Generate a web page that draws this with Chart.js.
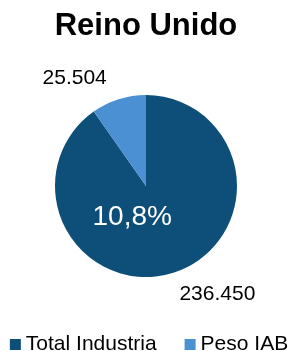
<!DOCTYPE html>
<html>
<head>
<meta charset="utf-8">
<script src="https://cdn.jsdelivr.net/npm/chart.js@4"></script>
<style>
  body { margin: 0; background: #fff; }
  #wrap { width: 292px; height: 351px; }
</style>
</head>
<body>
<div id="wrap"><canvas id="pie"></canvas></div>
<script>
// data
const categories = ['Total Industria', 'Peso IAB'];
const values = [236450, 25504];
const sliceColors = ['#0e4f79', '#4a90d3'];
const chartTitle = 'Reino Unido';

const FONT = '"Liberation Sans", Arial, sans-serif';

// 236450 -> "236.450"
function fmtThousands(n) {
  return String(n).replace(/\B(?=(\d{3})+(?!\d))/g, '.');
}

// IAB share of total industry, "10,8%"
const sharePct = (values[1] / values[0] * 100).toFixed(1).replace('.', ',') + '%';

// value labels outside the slices + share label inside
const sliceLabels = {
  id: 'sliceLabels',
  afterDatasetsDraw(chart) {
    const ctx = chart.ctx;
    const arcs = chart.getDatasetMeta(0).data;
    ctx.save();
    ctx.textAlign = 'center';
    ctx.textBaseline = 'middle';

    arcs.forEach((arc, i) => {
      const mid = (arc.startAngle + arc.endAngle) / 2 - 16 * Math.PI / 180;
      const r = arc.outerRadius * 1.42;
      ctx.fillStyle = '#000';
      ctx.font = '21px ' + FONT;
      ctx.fillText(fmtThousands(values[i]), arc.x + Math.cos(mid) * r, arc.y + Math.sin(mid) * r);
    });

    const big = arcs[0];
    const a = (big.startAngle + big.endAngle) / 2 + 41 * Math.PI / 180;
    const rr = big.outerRadius * 0.38;
    ctx.fillStyle = '#fff';
    ctx.font = '28px ' + FONT;
    ctx.fillText(sharePct, big.x + Math.cos(a) * rr, big.y + Math.sin(a) * rr);
    ctx.restore();
  }
};

// legend row at the bottom: small square, tight gap, wide spacing between items
const bottomLegend = {
  id: 'bottomLegend',
  afterDraw(chart) {
    const ctx = chart.ctx;
    const box = 11, gap = 5, spacing = 28;
    const baseY = chart.height - 1;
    ctx.save();
    ctx.font = '21px ' + FONT;
    ctx.textBaseline = 'alphabetic';
    const widths = categories.map(t => ctx.measureText(t).width);
    const total = widths.reduce((s, w) => s + box + gap + w, 0) + spacing * (categories.length - 1);
    let x = chart.width / 2 + 3 - total / 2;
    categories.forEach((t, i) => {
      ctx.fillStyle = sliceColors[i];
      ctx.fillRect(x, baseY - box, box, box);
      ctx.fillStyle = '#000';
      ctx.fillText(t, x + box + gap, baseY);
      x += box + gap + widths[i] + spacing;
    });
    ctx.restore();
  }
};

new Chart(document.getElementById('pie'), {
  type: 'pie',
  data: {
    labels: categories,
    datasets: [{
      data: values,
      backgroundColor: sliceColors,
      borderWidth: 0
    }]
  },
  options: {
    responsive: true,
    maintainAspectRatio: false,
    animation: false,
    radius: 91,
    layout: { padding: { left: 0, right: 0, top: 0, bottom: 26.7 } },
    plugins: {
      title: {
        display: true,
        text: chartTitle,
        color: '#000',
        font: { family: FONT, size: 31, weight: 'bold', lineHeight: 1.2 },
        padding: { top: 7.5, bottom: 3 }
      },
      legend: { display: false },
      tooltip: { enabled: false }
    }
  },
  plugins: [sliceLabels, bottomLegend]
});
</script>
</body>
</html>
